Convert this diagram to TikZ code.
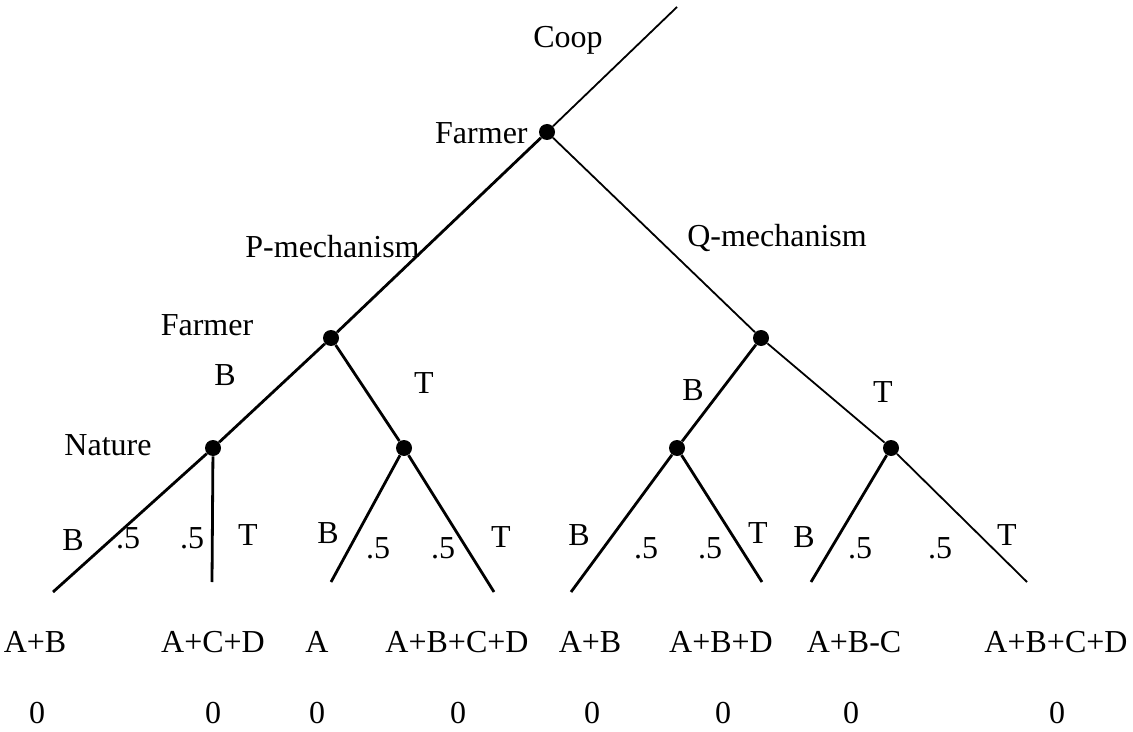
\documentclass[tikz,border=0pt]{standalone}
\usepackage{fontspec}
\setmainfont{Liberation Serif}
\usetikzlibrary{positioning}

\begin{document}
\begin{tikzpicture}[
    x=0.5pt, y=-0.5pt,
    dot/.style={circle, fill=black, inner sep=0pt, minimum size=8pt},
    lbl/.style={inner sep=0pt, font=\fontsize{16}{19}\selectfont},
    branch/.style={line width=0.9pt},
    thickbranch/.style={line width=1.4pt},
]
\useasboundingbox (0,0) rectangle (1133,732);

% Decision nodes
\node[dot] (root) at (547,132) {};
\node[dot] (pm) at (331,338) {};
\node[dot] (qm) at (761,338) {};
\node[dot] (nat) at (213,448) {};
\node[dot] (pt) at (404,448) {};
\node[dot] (qb) at (677,448) {};
\node[dot] (qt) at (891,448) {};

% Free ends
\coordinate (coop) at (677,7);
\coordinate (l1) at (53,592);
\coordinate (l2) at (212,582);
\coordinate (l3) at (331,582);
\coordinate (l4) at (494,592);
\coordinate (l5) at (571,592);
\coordinate (l6) at (762,582);
\coordinate (l7) at (811,582);
\coordinate (l8) at (1027,582);

% Branches
\draw[branch] (coop) -- (root);
\draw[thickbranch] (root) -- (pm);
\draw[branch] (root) -- (qm);
\draw[thickbranch] (pm) -- (nat);
\draw[thickbranch] (pm) -- (pt);
\draw[thickbranch] (qm) -- (qb);
\draw[branch] (qm) -- (qt);
\draw[thickbranch] (nat) -- (l1);
\draw[thickbranch] (nat) -- (l2);
\draw[thickbranch] (pt) -- (l3);
\draw[thickbranch] (pt) -- (l4);
\draw[thickbranch] (qb) -- (l5);
\draw[thickbranch] (qb) -- (l6);
\draw[thickbranch] (qt) -- (l7);
\draw[branch] (qt) -- (l8);

% Players and moves
\node[lbl] (coopl) at (568,40) {Coop};
\node[lbl, anchor=east] (farm1) at (528,133) {Farmer};
\node[lbl, anchor=east] (pmech) at (420,247) {P-mechanism};
\node[lbl] (qmech) at (777,238) {Q-mechanism};
\node[lbl] (farm2) at (207,325) {Farmer};
\node[lbl] (pb) at (225,375) {B};
\node[lbl] (ptl) at (424,383) {T};
\node[lbl] (qbl) at (693,390) {B};
\node[lbl] (qtl) at (883,392) {T};
\node[lbl] (natl) at (108,445) {Nature};

% Nature's moves
\node[lbl] (b1) at (73,540) {B};
\node[lbl] (p1) at (128,538) {.5};
\node[lbl] (p2) at (192,538) {.5};
\node[lbl] (t1) at (248,535) {T};
\node[lbl] (b2) at (328,533) {B};
\node[lbl] (p3) at (378,548) {.5};
\node[lbl] (p4) at (443,548) {.5};
\node[lbl] (t2) at (501,537) {T};
\node[lbl] (b3) at (579,535) {B};
\node[lbl] (p5) at (646,548) {.5};
\node[lbl] (p6) at (710,548) {.5};
\node[lbl] (t3) at (758,533) {T};
\node[lbl] (b4) at (804,537) {B};
\node[lbl] (p7) at (860,548) {.5};
\node[lbl] (p8) at (940,548) {.5};
\node[lbl] (t4) at (1007,535) {T};

% Payoffs
\node[lbl] (f1) at (35,642) {A+B};
\node[lbl] (f2) at (213,642) {A+C+D};
\node[lbl] (f3) at (317,642) {A};
\node[lbl] (f4) at (457,642) {A+B+C+D};
\node[lbl] (f5) at (590,642) {A+B};
\node[lbl] (f6) at (721,642) {A+B+D};
\node[lbl] (f7) at (854,642) {A+B-C};
\node[lbl] (f8) at (1056,642) {A+B+C+D};
\node[lbl] (c1) at (37,713) {0};
\node[lbl] (c2) at (213,713) {0};
\node[lbl] (c3) at (317,713) {0};
\node[lbl] (c4) at (458,713) {0};
\node[lbl] (c5) at (592,713) {0};
\node[lbl] (c6) at (723,713) {0};
\node[lbl] (c7) at (851,713) {0};
\node[lbl] (c8) at (1057,713) {0};

\end{tikzpicture}
\end{document}
